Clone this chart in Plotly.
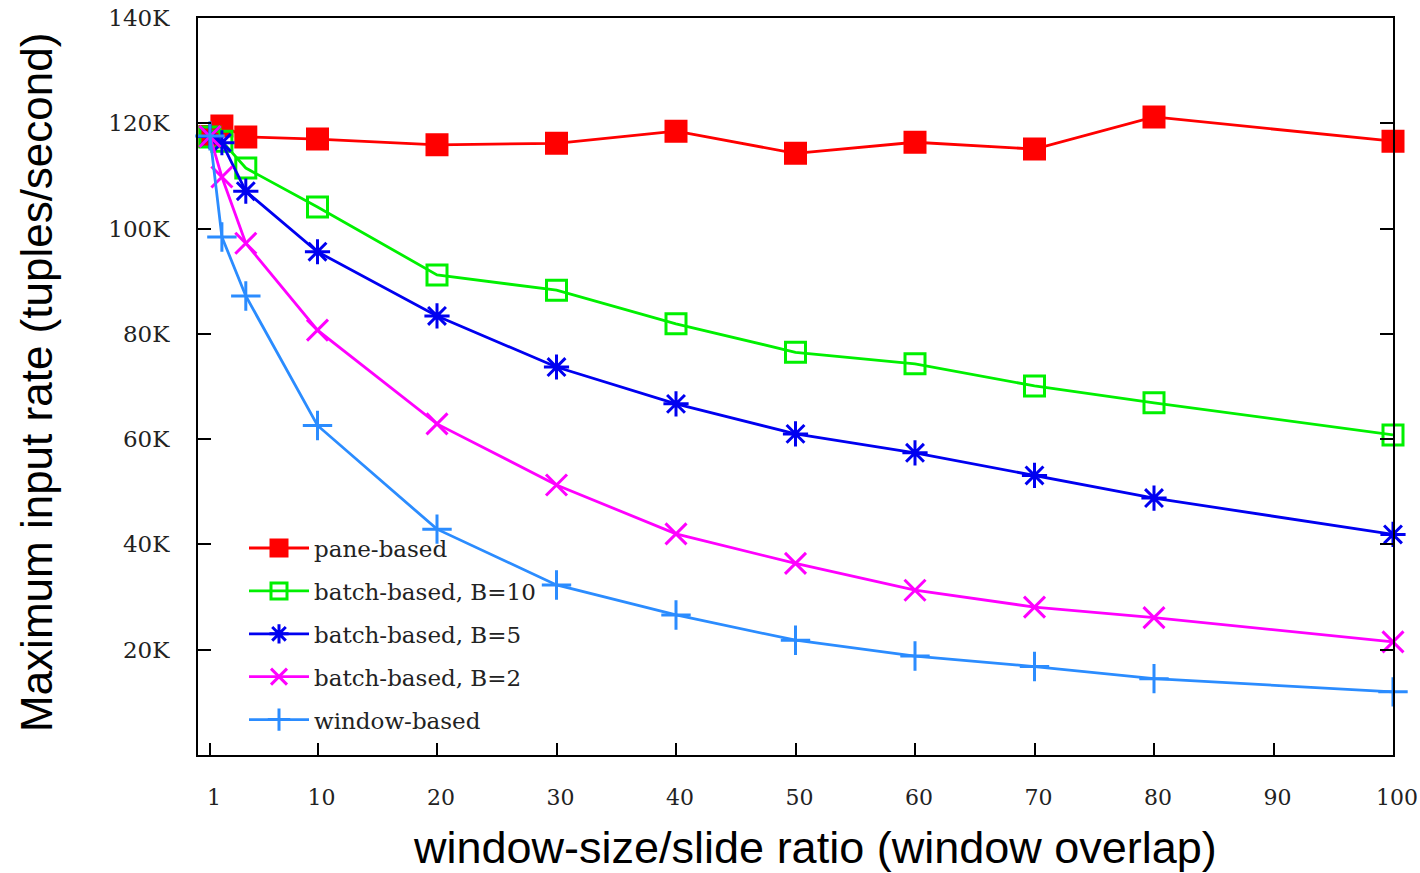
import plotly.graph_objects as go

x_vals = [1, 2, 4, 10, 20, 30, 40, 50, 60, 70, 80, 100]

pane_based = [117.5, 119.5, 117.4, 117.0, 115.9, 116.2, 118.5, 114.3, 116.4, 115.1, 121.2, 116.6]
batch_b10 = [117.4, 116.6, 111.5, 104.1, 91.2, 88.3, 81.9, 76.5, 74.3, 70.1, 66.9, 60.8]
batch_b5 = [117.5, 116.3, 107.1, 95.6, 83.4, 73.7, 66.7, 61.0, 57.4, 53.1, 48.8, 41.9]
batch_b2 = [117.5, 109.8, 97.2, 80.7, 62.9, 51.3, 42.0, 36.4, 31.3, 28.1, 26.1, 21.5]
window_based = [117.6, 98.4, 87.2, 62.6, 42.9, 32.3, 26.6, 21.8, 18.8, 16.8, 14.5, 12.0]

series_names = ["pane-based", "batch-based, B=10", "batch-based, B=5", "batch-based, B=2", "window-based"]
series_colors = ["#FF0000", "#00F000", "#0000F0", "#FF00FF", "#2B8CFF"]
series_symbols = ["square", "square-open", "asterisk-open", "x-thin-open", "cross-thin-open"]

x_ticks = [1, 10, 20, 30, 40, 50, 60, 70, 80, 90, 100]
y_ticks = [20000, 40000, 60000, 80000, 100000, 120000, 140000]
y_tick_labels = ["20K", "40K", "60K", "80K", "100K", "120K", "140K"]

W, H = 1420, 873
L, T = 198, 18
PR, PB = 1393, 755

fig = go.Figure()
all_series = [pane_based, batch_b10, batch_b5, batch_b2, window_based]
for i, (name, vals, col, sym) in enumerate(zip(series_names, all_series, series_colors, series_symbols)):
    fig.add_trace(go.Scatter(
        x=x_vals, y=[v * 1000 for v in vals], name=name, mode="lines+markers",
        line=dict(color=col, width=2.8),
        marker=dict(symbol=sym, size=20 if i < 2 else 21, color=col,
                    line=dict(color=col, width=3)),
        legendgroup=name,
        cliponaxis=False,
    ))

fig.update_layout(
    width=W, height=H,
    margin=dict(l=L, r=W - PR, t=T, b=H - PB, autoexpand=False),
    paper_bgcolor="white", plot_bgcolor="white",
    showlegend=True,
    legend=dict(x=(244 - 198) / 1195, y=0.31, xanchor="left", yanchor="top",
                bgcolor="rgba(0,0,0,0)", font=dict(family="DejaVu Serif", size=23, color="#222"),
                tracegroupgap=10, itemwidth=60),
    font=dict(family="DejaVu Serif", size=22, color="#222"),
)
fig.update_xaxes(range=[0, 100], tickvals=x_ticks, ticktext=[str(t) for t in x_ticks],
                 showgrid=False, zeroline=False, showline=True, linecolor="black", linewidth=2,
                 mirror=True, ticks="inside", ticklen=12, tickwidth=2, tickcolor="black",
                 ticklabelstandoff=22, ticklabelshift=4, ticklabeloverflow="allow",
                 tickfont=dict(family="DejaVu Serif", size=22, color="#222"))
fig.update_yaxes(range=[0, 140000], tickvals=y_ticks, ticktext=y_tick_labels,
                 showgrid=False, zeroline=False, showline=True, linecolor="black", linewidth=2,
                 mirror="ticks", ticks="inside", ticklen=13, tickwidth=2, tickcolor="black",
                 ticklabelstandoff=22, ticklabeloverflow="allow",
                 tickfont=dict(family="DejaVu Serif", size=23, color="#222"))

PW, PH = PR - L, PB - T
fig.add_annotation(text="window-size/slide ratio (window overlap)", xref="paper", yref="paper",
                   x=(815 - 198) / PW, y=-(847 - 755) / PH, xanchor="center", yanchor="middle",
                   showarrow=False, font=dict(family="Liberation Sans", size=45, color="black"))
fig.add_annotation(text="Maximum input rate (tuples/second)", xref="paper", yref="paper",
                   x=-(198 - 36) / PW, y=(755 - 383) / PH, xanchor="center", yanchor="middle",
                   textangle=-90, showarrow=False,
                   font=dict(family="Liberation Sans", size=44, color="black"))

fig.write_html("out.html", config={"displayModeBar": False},
               post_script="document.body.style.margin='0';document.body.style.overflow='hidden';")
